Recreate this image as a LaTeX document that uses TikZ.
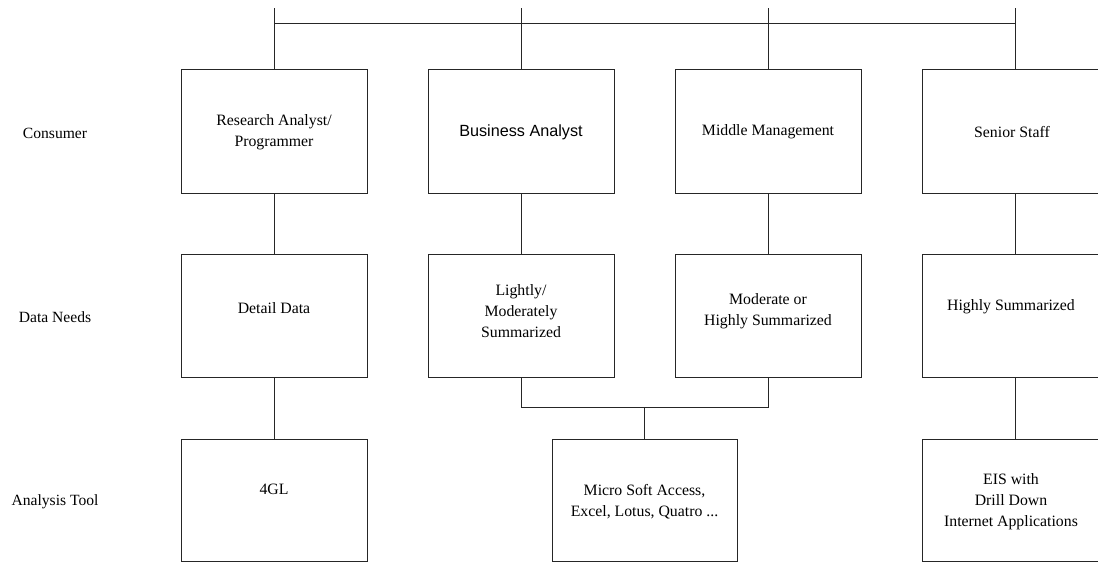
\documentclass[tikz,border=0pt]{standalone}
\usepackage{fontspec}
\setmainfont{Liberation Serif}
\newfontfamily\arialfont{Liberation Sans}
\begin{document}
\begin{tikzpicture}[x=1pt,y=-1pt,
  box/.style={draw=black!85,line width=0.9pt,minimum width=186pt,inner sep=0pt,fill=white},
  rowone/.style={box,minimum height=124pt},
  rowtwo/.style={box,minimum height=123pt},
  rowthree/.style={box,minimum height=122pt},
  txt/.style={align=center,inner sep=0pt,font=\fontsize{15.8}{21}\selectfont},
  lbl/.style={inner sep=0pt,font=\fontsize{15.6}{18}\selectfont},
  conn/.style={draw=black!85,line width=0.9pt}]
\clip (0,0) rectangle (1098,562);
\fill[white] (0,0) rectangle (1098,562);
% boxes
\node[rowone] (b11) at (274,131) {};
\node[rowone] (b12) at (521,131) {};
\node[rowone] (b13) at (768,131) {};
\node[rowone] (b14) at (1015,131) {};
\node[rowtwo] (b21) at (274,315.5) {};
\node[rowtwo] (b22) at (521,315.5) {};
\node[rowtwo] (b23) at (768,315.5) {};
\node[rowtwo] (b24) at (1015,315.5) {};
\node[rowthree] (b31) at (274,500) {};
\node[rowthree,minimum width=185pt] (b32) at (644.5,500) {};
\node[rowthree] (b34) at (1015,500) {};
% texts
\node[txt] (x11) at (274,132) {Research Analyst/\\Programmer};
\node[txt,font=\arialfont\fontsize{16.2}{21}\selectfont] (x12) at (521,132) {Business Analyst};
\node[txt] (x13) at (768,132) {Middle Management};
\node[txt] (x14) at (1012,132) {Senior Staff};
\node[txt] (x21) at (274,308) {Detail Data};
\node[txt] (x22) at (521,311) {Lightly/\\Moderately\\Summarized};
\node[txt] (x23) at (768,311) {Moderate or\\Highly Summarized};
\node[txt] (x24) at (1011,307) {Highly Summarized};
\node[txt] (x31) at (274,489) {4GL};
\node[txt] (x32) at (644.5,502) {Micro Soft Access,\\Excel, Lotus, Quatro ...};
\node[txt] (x34) at (1011,502) {EIS with\\Drill Down\\Internet Applications};
% row labels
\node[lbl] (l1) at (55,133) {Consumer};
\node[lbl] (l2) at (55,317) {Data Needs};
\node[lbl] (l3) at (55,502) {Analysis Tool};
% top bus
\coordinate (t1) at (274,8);
\coordinate (t2) at (521,8);
\coordinate (t3) at (768,8);
\coordinate (t4) at (1015,8);
\coordinate (j1) at (274,23.5);
\coordinate (j4) at (1015,23.5);
\draw[conn] (t1) -- (b11.north);
\draw[conn] (t2) -- (b12.north);
\draw[conn] (t3) -- (b13.north);
\draw[conn] (t4) -- (b14.north);
\draw[conn] (j1) -- (j4);
% row1 to row2
\draw[conn] (b11.south) -- (b21.north);
\draw[conn] (b12.south) -- (b22.north);
\draw[conn] (b13.south) -- (b23.north);
\draw[conn] (b14.south) -- (b24.north);
% row2 to row3
\draw[conn] (b21.south) -- (b31.north);
\draw[conn] (b24.south) -- (b34.north);
\coordinate (m) at (644.5,407.5);
\draw[conn] (b22.south) |- (m) -| (b23.south);
\draw[conn] (m) -- (b32.north);
\end{tikzpicture}
\end{document}
